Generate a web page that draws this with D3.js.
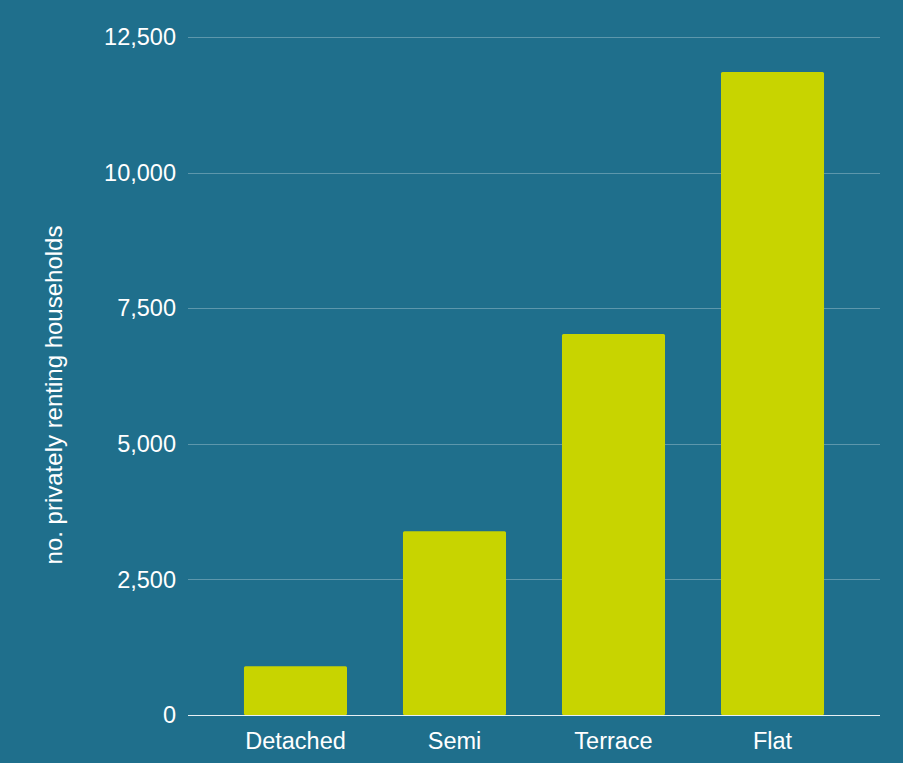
<!DOCTYPE html>
<html>
<head>
<meta charset="utf-8">
<script src="https://cdn.jsdelivr.net/npm/d3@7"></script>
<style>
html,body{margin:0;padding:0;background:#1f6f8c;}
svg{display:block;}
</style>
</head>
<body>
<script>
const categories = ["Detached", "Semi", "Terrace", "Flat"];
const values = [900, 3390, 7025, 11855];
const yTicks = [0, 2500, 5000, 7500, 10000, 12500];
const yLabel = "no. privately renting households";

const W = 903, H = 763;
const margin = {top: 37, right: 23, bottom: 48, left: 188};
const svg = d3.select("body").append("svg").attr("width", W).attr("height", H);
svg.append("rect").attr("width", W).attr("height", H).attr("fill", "#1f6f8c");

const x = d3.scaleBand().domain(categories)
  .range([margin.left, W - margin.right])
  .padding(0.352);
const y = d3.scaleLinear().domain([0, 12500]).range([H - margin.bottom, margin.top]);

const font = "'Liberation Sans', Arial, sans-serif";

// gridlines
svg.append("g").selectAll("line").data(yTicks.filter(d => d > 0)).join("line")
  .attr("x1", margin.left).attr("x2", W - margin.right)
  .attr("y1", d => Math.round(y(d)) + 0.5).attr("y2", d => Math.round(y(d)) + 0.5)
  .attr("stroke", "#ffffff").attr("stroke-opacity", 0.28).attr("stroke-width", 1);

// y tick labels
svg.append("g").selectAll("text").data(yTicks).join("text")
  .attr("x", margin.left - 12).attr("y", d => y(d))
  .attr("dy", "0.35em").attr("text-anchor", "end")
  .attr("fill", "#ffffff").attr("font-family", font).attr("font-size", 23.5)
  .text(d => d3.format(",")(d));

// bars
svg.append("g").selectAll("rect").data(values).join("rect")
  .attr("x", (d, i) => x(categories[i]))
  .attr("width", x.bandwidth())
  .attr("y", d => y(d))
  .attr("height", d => y(0) - y(d))
  .attr("rx", 1.5)
  .attr("fill", "#c8d400");

// baseline
svg.append("line")
  .attr("x1", margin.left).attr("x2", W - margin.right)
  .attr("y1", Math.round(y(0)) + 0.5).attr("y2", Math.round(y(0)) + 0.5)
  .attr("stroke", "#e8f0f4").attr("stroke-width", 1.2);

// x labels
svg.append("g").selectAll("text").data(categories).join("text")
  .attr("x", d => x(d) + x.bandwidth() / 2)
  .attr("y", 749)
  .attr("text-anchor", "middle")
  .attr("fill", "#ffffff").attr("font-family", font).attr("font-size", 23.5)
  .text(d => d);

// y axis label
svg.append("text")
  .attr("transform", "translate(62,395) rotate(-90)")
  .attr("text-anchor", "middle")
  .attr("fill", "#ffffff").attr("font-family", font).attr("font-size", 24)
  .text(yLabel);
</script>
</body>
</html>
